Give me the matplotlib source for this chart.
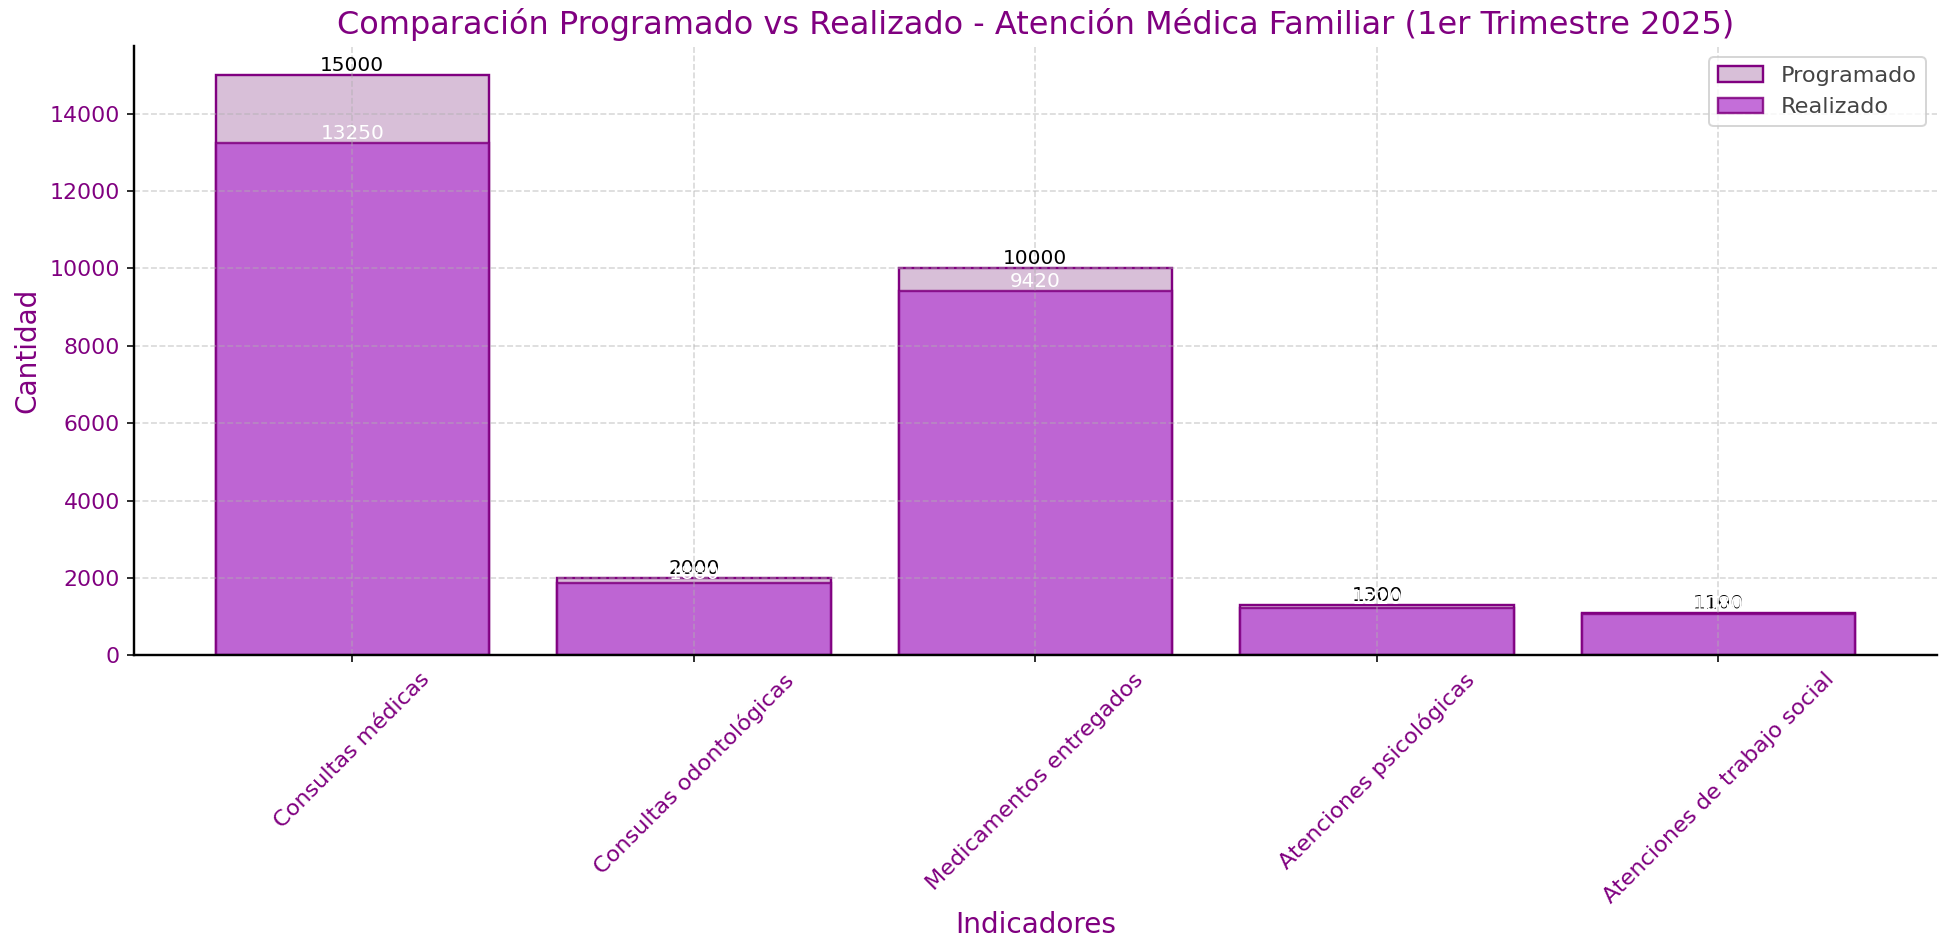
import matplotlib.pyplot as plt
import numpy as np

indicadores = [
    "Consultas médicas",
    "Consultas odontológicas",
    "Medicamentos entregados",
    "Atenciones psicológicas",
    "Atenciones de trabajo social",
]
programado = [15000, 2000, 10000, 1300, 1100]
realizado = [13250, 1880, 9420, 1220, 1080]

purple = "#800080"

fig, ax = plt.subplots(figsize=(1939 / 144, 945 / 144), dpi=144)
fig.subplots_adjust(left=0.069, right=0.999, top=0.9515, bottom=0.3065)

x = np.arange(len(indicadores))
bars_p = ax.bar(x, programado, width=0.8, color="#D8BFD8", edgecolor=purple,
                linewidth=1.2, label="Programado")
bars_r = ax.bar(x, realizado, width=0.8, color="#BA55D3", alpha=0.85,
                edgecolor=purple, linewidth=1.2, label="Realizado")

for bar, val in zip(bars_p, programado):
    ax.text(bar.get_x() + bar.get_width() / 2, val, str(val),
            ha="center", va="bottom", fontsize=10, color="black")
for bar, val in zip(bars_r, realizado):
    ax.text(bar.get_x() + bar.get_width() / 2, val, str(val),
            ha="center", va="bottom", fontsize=10, color="white")

ax.set_title("Comparación Programado vs Realizado - Atención Médica Familiar (1er Trimestre 2025)",
             fontsize=16, color=purple)
ax.set_xlabel("Indicadores", fontsize=14, color=purple, labelpad=2)
ax.set_ylabel("Cantidad", fontsize=14, color=purple)
ax.set_xticks(x)
ax.set_xticklabels(indicadores, rotation=45, color=purple, fontsize=11.2)
ax.tick_params(axis="y", labelcolor=purple, labelsize=11)
ax.grid(True, linestyle="--", alpha=0.5)
ax.spines["top"].set_visible(False)
ax.spines["right"].set_visible(False)
ax.spines["left"].set_linewidth(1.2)
ax.spines["bottom"].set_linewidth(1.2)
leg = ax.legend(loc="upper right", fontsize=11.2)
for t in leg.get_texts():
    t.set_color("#444444")

plt.savefig("out.png", dpi=144)
